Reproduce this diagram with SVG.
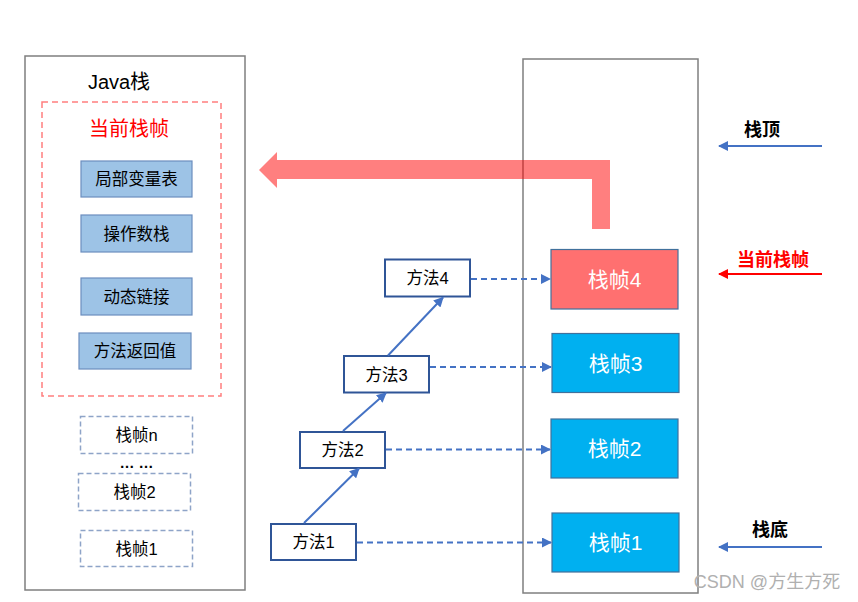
<svg xmlns="http://www.w3.org/2000/svg" width="858" height="602" viewBox="0 0 858 602">
<defs>
<style>
text{font-family:"Liberation Sans","Noto Sans CJK SC",sans-serif;text-anchor:middle;dominant-baseline:central}
.outer{fill:#fff;stroke:#7f7f7f;stroke-width:1.5}
.part{fill:#9dc3e6;stroke:#6c8ebf;stroke-width:1.2}
.ghost{fill:#fff;stroke:#8ea4c8;stroke-width:1.5;stroke-dasharray:5,3}
.m{fill:#fff;stroke:#2f5597;stroke-width:2}
.fr{stroke:#41719c;stroke-width:1.2}
.t15{font-size:16.5px;fill:#000}
.tw{font-size:21px;fill:#fff}
.conn{stroke:#4472c4;stroke-width:2;fill:none}
.dash{stroke-dasharray:6,4}
</style>
<marker id="ah" viewBox="0 0 10 10" refX="9" refY="5" markerWidth="5" markerHeight="5" orient="auto" markerUnits="strokeWidth"><path d="M0,0L10,5L0,10z" fill="#4472c4"/></marker>
<marker id="ahr" viewBox="0 0 10 10" refX="9" refY="5" markerWidth="5" markerHeight="5" orient="auto" markerUnits="strokeWidth"><path d="M0,0L10,5L0,10z" fill="#ff0000"/></marker>
</defs>
<rect width="858" height="602" fill="#fff"/>

<g id="java-stack">
<rect class="outer" x="25" y="56" width="220" height="534"/>
<text x="119" y="82" style="font-size:20px">Java栈</text>
</g>
<g id="current-frame">
<rect x="42" y="102" width="179" height="294" fill="none" stroke="#ff7f7f" stroke-width="1.5" stroke-dasharray="6,4"/>
<text x="129" y="129" style="font-size:20px;fill:#ff0000">当前栈帧</text>
</g>
<g id="local-vars"><rect class="part" x="81" y="161" width="111" height="36"/><text class="t15" x="136.5" y="179">局部变量表</text></g>
<g id="operand-stack"><rect class="part" x="81" y="215" width="111" height="37"/><text class="t15" x="136.5" y="233.5">操作数栈</text></g>
<g id="dynamic-link"><rect class="part" x="81" y="278" width="111" height="37"/><text class="t15" x="136.5" y="296.5">动态链接</text></g>
<g id="return-value"><rect class="part" x="79" y="333" width="112" height="36"/><text class="t15" x="135" y="351">方法返回值</text></g>
<g id="frame-n"><rect class="ghost" x="80.5" y="416.5" width="112" height="37"/><text class="t15" x="136.5" y="435">栈帧n</text></g>
<text x="136.5" y="462" style="font-size:15px;font-weight:bold">… …</text>
<g id="frame-2-left"><rect class="ghost" x="78.5" y="473.5" width="112" height="37"/><text class="t15" x="134.5" y="492">栈帧2</text></g>
<g id="frame-1-left"><rect class="ghost" x="80.5" y="530.5" width="112" height="36"/><text class="t15" x="136.5" y="548.5">栈帧1</text></g>

<g id="right-stack"><rect class="outer" x="523" y="59" width="175" height="534"/></g>

<g id="big-arrow"><polygon points="610,160 610,229 592,229 592,179 277,179 277,188 259,170 277,152 277,160" fill="#ff0000" fill-opacity="0.5"/></g>

<g id="frame4"><rect class="fr" x="551" y="249.5" width="127" height="59.5" fill="#ff7070"/><text class="tw" x="614.5" y="279">栈帧4</text></g>
<g id="frame3"><rect class="fr" x="552" y="333.5" width="127" height="59" fill="#00b0f0"/><text class="tw" x="615.5" y="363">栈帧3</text></g>
<g id="frame2"><rect class="fr" x="551" y="419" width="127" height="59" fill="#00b0f0"/><text class="tw" x="614.5" y="448.5">栈帧2</text></g>
<g id="frame1"><rect class="fr" x="552" y="513" width="127" height="59" fill="#00b0f0"/><text class="tw" x="615.5" y="542.5">栈帧1</text></g>

<g id="method4"><rect class="m" x="385" y="259.5" width="85" height="37"/><text class="t15" x="427.5" y="278">方法4</text></g>
<g id="method3"><rect class="m" x="344" y="356" width="85" height="36.5"/><text class="t15" x="386.5" y="374.5">方法3</text></g>
<g id="method2"><rect class="m" x="300" y="432" width="85" height="36"/><text class="t15" x="342.5" y="450">方法2</text></g>
<g id="method1"><rect class="m" x="271" y="524" width="85" height="36"/><text class="t15" x="313.5" y="542">方法1</text></g>

<g id="connectors">
<line class="conn dash" x1="471" y1="279" x2="550" y2="279" marker-end="url(#ah)"/>
<line class="conn dash" x1="430" y1="367" x2="551" y2="367" marker-end="url(#ah)"/>
<line class="conn dash" x1="386" y1="449.5" x2="550" y2="449.5" marker-end="url(#ah)"/>
<line class="conn dash" x1="357" y1="542.5" x2="551" y2="542.5" marker-end="url(#ah)"/>
<line class="conn" x1="304" y1="523" x2="359" y2="468.5" marker-end="url(#ah)"/>
<line class="conn" x1="343" y1="431" x2="386" y2="393" marker-end="url(#ah)"/>
<line class="conn" x1="388" y1="355.5" x2="443" y2="297.5" marker-end="url(#ah)"/>
<line class="conn" x1="822" y1="146" x2="719" y2="146" marker-end="url(#ah)"/>
<line x1="822" y1="274" x2="719" y2="274" stroke="#ff0000" stroke-width="2" marker-end="url(#ahr)"/>
<line class="conn" x1="822" y1="547" x2="719" y2="547" marker-end="url(#ah)"/>
</g>

<g id="label-top"><text x="762" y="130" style="font-size:18px;font-weight:bold">栈顶</text></g>
<g id="label-current"><text x="773" y="260" style="font-size:18px;font-weight:bold;fill:#ff0000">当前栈帧</text></g>
<g id="label-bottom"><text x="770" y="530" style="font-size:18px;font-weight:bold">栈底</text></g>
<text x="767" y="582" style="font-size:18px;fill:#b0b0b0">CSDN @方生方死</text>
</svg>
